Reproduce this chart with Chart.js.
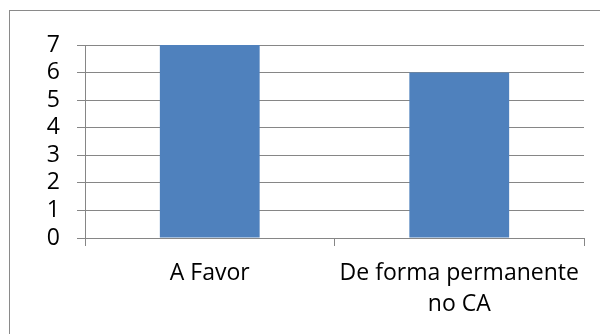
<!DOCTYPE html>
<html>
<head>
<meta charset="utf-8">
<script src="https://cdn.jsdelivr.net/npm/chart.js@4/dist/chart.umd.min.js"></script>
<style>
  html, body { margin: 0; padding: 0; background: #fff; }
  #wrap { position: relative; width: 600px; height: 334px; overflow: hidden; }
  #frame { position: absolute; left: 9px; top: 10px; width: 620px; height: 360px; border: 1px solid #8a8a8a; box-sizing: border-box; }
  canvas { position: absolute; left: 0; top: 0; }
</style>
</head>
<body>
<div id="wrap">
  <div id="frame"></div>
  <canvas id="c" width="600" height="334"></canvas>
</div>
<script>
const categories = [["A Favor"], ["De forma permanente", "no CA"]];
const values = [7, 6];
const yTicks = [0, 1, 2, 3, 4, 5, 6, 7];

const gray = '#868686';
const font = { family: "'Open Sans', sans-serif", size: 23 };

new Chart(document.getElementById('c'), {
  type: 'bar',
  data: {
    labels: categories,
    datasets: [{
      data: values,
      backgroundColor: '#4F81BD',
      borderWidth: 0,
      categoryPercentage: 1,
      barPercentage: 0.4
    }]
  },
  options: {
    responsive: false,
    animation: false,
    events: [],
    layout: { padding: { top: 45, right: 16, bottom: 0, left: 0 } },
    plugins: { legend: { display: false }, tooltip: { enabled: false } },
    scales: {
      x: {
        grid: { drawOnChartArea: false, drawTicks: true, tickLength: 8, color: gray, lineWidth: 1 },
        border: { display: true, color: gray, width: 1 },
        ticks: { color: '#000', font: { ...font, lineHeight: 1.35 }, padding: 12, maxRotation: 0, autoSkip: false },
        afterFit: s => { s.height = 96; }
      },
      y: {
        min: 0, max: 7,
        afterBuildTicks: s => { s.ticks = yTicks.map(v => ({ value: v })); },
        grid: { drawOnChartArea: true, drawTicks: true, tickLength: 8, color: gray, lineWidth: 1 },
        border: { display: true, color: gray, width: 1 },
        ticks: { color: '#000', font: font, padding: 17, autoSkip: false },
        afterFit: s => { s.width = 85; }
      }
    }
  }
});
</script>
</body>
</html>
